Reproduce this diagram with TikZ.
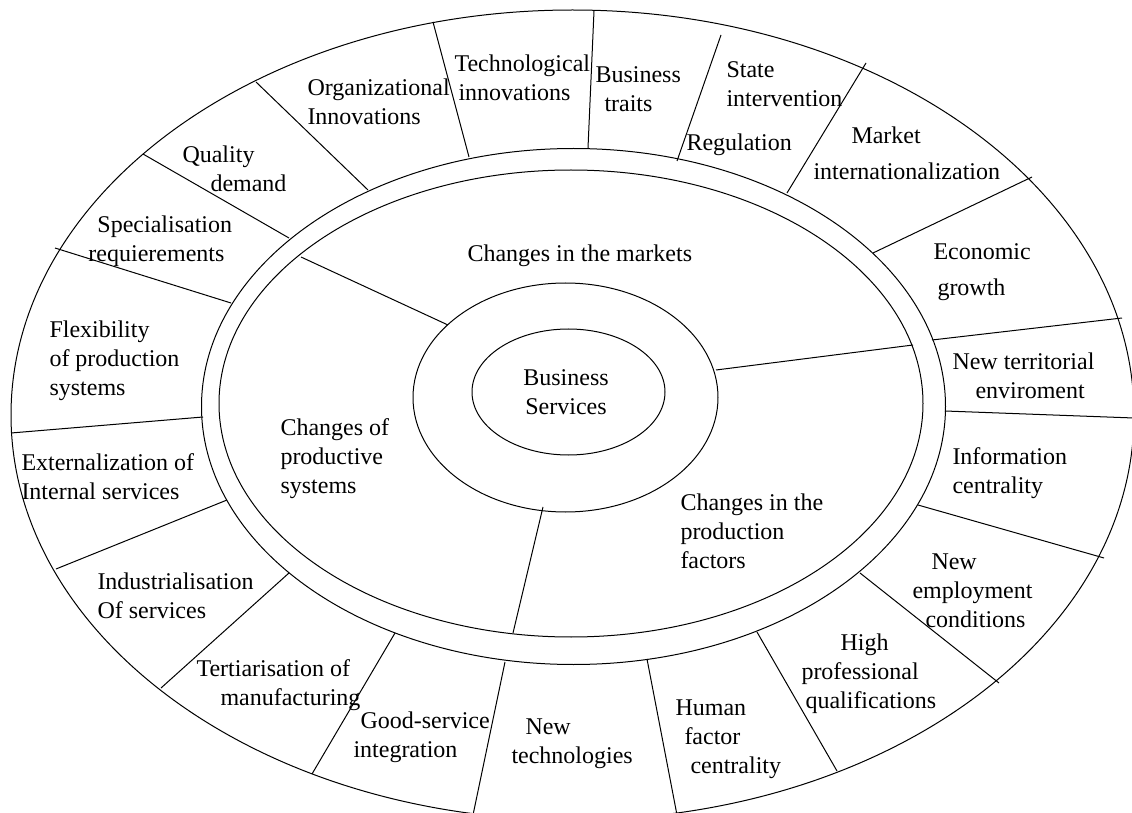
\documentclass[tikz,border=0pt]{standalone}
\usepackage{fontspec}
\setmainfont{Liberation Serif}

\begin{document}
\begin{tikzpicture}[x=0.5pt, y=-0.5pt, line width=0.5pt,
  lbl/.style={anchor=base west, align=left, inner sep=0pt,
    font=\fontsize{12}{14.5}\selectfont}]
\useasboundingbox (0,0) rectangle (1132,813);

% rings
\draw (572.5,415) ellipse [x radius=561.5, y radius=405];
\draw (573.5,406.5) ellipse [x radius=372, y radius=258];
\draw (571,403.5) ellipse [x radius=352, y radius=233.5];
\draw (565.5,397.5) ellipse [x radius=152.5, y radius=114.5];
\draw (568.5,392) ellipse [x radius=96.5, y radius=63];

% dividers of the middle ring
\foreach \xa/\ya/\xb/\yb in {301/257/448/325, 716/370/913/345, 543/507/513/633}
  \draw (\xa,\ya) -- (\xb,\yb);

% dividers of the outer ring
\foreach \xa/\ya/\xb/\yb in {433/22/469/157, 594/11/588/148, 721/35/677/161,
    866/63/787/193, 1032/177/873/253, 1122/318/932/340, 945/411/1134/418,
    918/505/1104/558, 860/573/999/683, 757/632/837/771, 647/659/677/815,
    505/662/473/815, 395/633/312/774, 289/573/161/688, 227/500/56/569,
    11/433/203/417, 55/248/231/303, 143/154/289/238, 256/82/368/190}
  \draw (\xa,\ya) -- (\xb,\yb);

% centre (base = last line)
\node[lbl, anchor=base, align=center] (bserv) at (566,415) {Business\\Services};

% middle ring
\node[lbl] (markets) at (467,262) {Changes in the markets};
\node[lbl] (prodsys) at (280,494) {Changes of\\productive\\systems};
\node[lbl] (prodfac) at (680,568) {Changes in the\\production\\factors};

% outer ring
\node[lbl] (orginn) at (307,125) {Organizational\\Innovations};
\node[lbl] (techinn) at (454,101) {Technological\\\hspace*{2pt}innovations};
\node[lbl] (bustr) at (595,112) {Business\\\hspace*{4.5pt}traits};
\node[lbl] (state) at (726,107) {State\\intervention};
\node[lbl] (regul) at (686,151) {Regulation};
\node[lbl] (market) at (813,180) {\hspace*{19pt}Market\\[3.5pt]internationalization};
\node[lbl] (econ) at (933,296) {Economic\\[3.5pt]\hspace*{2pt}growth};
\node[lbl] (newterr) at (952,399) {New territorial\\\hspace*{11.5pt}enviroment};
\node[lbl] (info) at (952,494) {Information\\centrality};
\node[lbl] (newemp) at (912,627) {\hspace*{9.5pt}New\\employment\\\hspace*{6.5pt}conditions};
\node[lbl] (highprof) at (801,708) {\hspace*{19.5pt}High\\professional\\\hspace*{2pt}qualifications};
\node[lbl] (human) at (675,773) {Human\\\hspace*{4.5pt}factor\\\hspace*{7.5pt}centrality};
\node[lbl] (newtech) at (511,763) {\hspace*{7pt}New\\technologies};
\node[lbl] (goodserv) at (353,757) {\hspace*{3.5pt}Good-service\\integration};
\node[lbl] (tert) at (196,705) {Tertiarisation of\\\hspace*{12pt}manufacturing};
\node[lbl] (indus) at (97,618) {Industrialisation\\Of services};
\node[lbl] (extern) at (21,499) {Externalization of\\Internal services};
\node[lbl] (flex) at (49,395) {Flexibility\\of production\\systems};
\node[lbl] (spec) at (88,262) {\hspace*{4.5pt}Specialisation\\requierements};
\node[lbl] (qual) at (182,192) {Quality\\\hspace*{14pt}demand};
\end{tikzpicture}
\end{document}
